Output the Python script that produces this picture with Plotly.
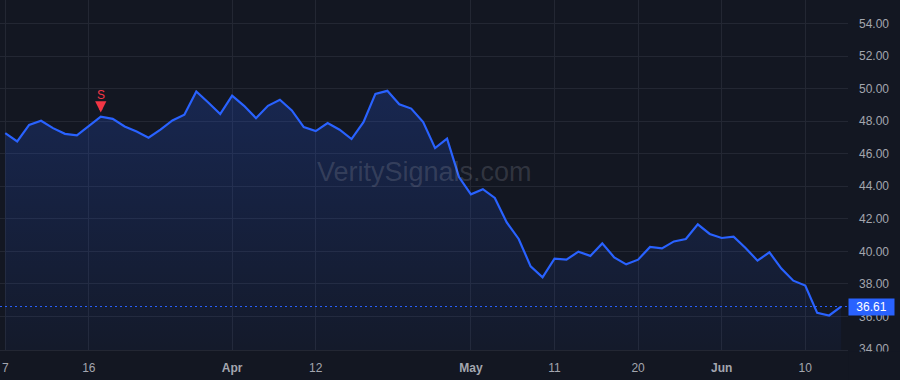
import pandas as pd
import plotly.graph_objects as go

# ---- data ----
holidays = ["2022-04-15", "2022-05-30"]
dates = [d.strftime("%Y-%m-%d") for d in pd.bdate_range("2022-03-07", "2022-06-15") if d.strftime("%Y-%m-%d") not in holidays]

prices = [
    47.26, 46.75, 47.77, 48.02, 47.57, 47.22, 47.12, 47.72, 48.28, 48.14,
    47.67, 47.36, 46.98, 47.48, 48.04, 48.39, 49.82, 49.14, 48.43, 49.57,
    48.94, 48.18, 48.94, 49.31, 48.66, 47.63, 47.39, 47.88, 47.47, 46.90,
    47.94, 49.67, 49.86, 49.04, 48.77, 47.94, 46.34, 46.92, 44.56, 43.50,
    43.82, 43.28, 41.78, 40.76, 39.08, 38.41, 39.55, 39.49, 39.98, 39.72,
    40.49, 39.63, 39.20, 39.49, 40.27, 40.18, 40.61, 40.76, 41.66, 41.07,
    40.82, 40.90, 40.21, 39.43, 39.94, 38.94, 38.20, 37.90, 36.22, 36.06,
    36.61,
]

tick_dates = ["2022-03-07", "2022-03-16", "2022-04-01", "2022-04-12", "2022-05-02",
              "2022-05-11", "2022-05-20", "2022-06-01", "2022-06-10"]
tick_labels = ["7", "16", "<b>Apr</b>", "12", "<b>May</b>", "11", "20", "<b>Jun</b>", "10"]

y_ticks = [34, 36, 38, 40, 42, 44, 46, 48, 50, 52, 54]
signal_date = "2022-03-17"
signal_label = "S"
last_price = prices[-1]

BG = "#131722"
GRID = "#232733"
BLUE = "#2962ff"
TXT = "#a3a6af"
RED = "#f23645"
FONT = "Liberation Sans, Arial, sans-serif"

fig = go.Figure()
fig.add_trace(go.Scatter(
    x=dates, y=prices, mode="lines",
    line=dict(color=BLUE, width=2.2),
    fill="tozeroy",
    fillgradient=dict(type="vertical", start=34, stop=50,
                      colorscale=[[0, "rgba(41,98,255,0.04)"], [1, "rgba(41,98,255,0.21)"]]),
    hoverinfo="skip", showlegend=False,
))

sig_idx = dates.index(signal_date)
# signal arrow (short shaft + head) and its letter
fig.add_annotation(
    x=signal_date, y=prices[sig_idx], text="",
    showarrow=True, ax=0, ay=-14, arrowcolor=RED, arrowwidth=3,
    arrowhead=2, arrowsize=0.75, standoff=4,
)
fig.add_annotation(
    x=signal_date, y=prices[sig_idx], text=signal_label, showarrow=False,
    yshift=22, font=dict(color=RED, size=12, family=FONT),
)

# watermark
fig.add_annotation(
    x=0.5, y=0.508, xref="paper", yref="paper", text="VeritySignals.com",
    showarrow=False, font=dict(size=27, color="rgba(178,181,190,0.2)", family=FONT),
)

# last price line and label
fig.add_shape(type="line", xref="paper", x0=0, x1=1, yref="y", y0=last_price, y1=last_price,
              line=dict(color=BLUE, width=1, dash="2px,3px"), layer="above")
# hide the bottom of the lowest tick label like the original
fig.add_shape(type="rect", xref="paper", yref="paper", x0=1.0005, x1=1.07, y0=-0.004, y1=-0.2,
              fillcolor=BG, line=dict(width=0), layer="above")
fig.add_annotation(
    x=1, xref="paper", xanchor="left", y=last_price, yref="y", text=f"{last_price:.2f}",
    showarrow=False, bgcolor=BLUE, font=dict(color="white", size=12, family=FONT),
    width=43, height=14, borderpad=1, align="center",
)

fig.update_layout(
    width=900, height=380,
    margin=dict(l=0, r=52, t=0, b=30),
    paper_bgcolor=BG, plot_bgcolor=BG,
    font=dict(family=FONT, color=TXT, size=12),
    xaxis=dict(
        type="category", categoryorder="array", categoryarray=dates,
        range=[-0.44, 70.58],
        tickmode="array", tickvals=tick_dates, ticktext=tick_labels,
        showgrid=True, gridcolor=GRID, gridwidth=1,
        showline=True, linecolor=GRID, linewidth=1,
        ticks="", ticklabelstandoff=7, zeroline=False,
        tickfont=dict(size=12, color=TXT),
    ),
    yaxis=dict(
        side="right", range=[33.94, 55.44],
        tickmode="array", tickvals=y_ticks, ticktext=[f"{v:.2f}" for v in y_ticks],
        showgrid=True, gridcolor=GRID, gridwidth=1,
        ticks="", ticklabelstandoff=10, zeroline=False, showline=False,
        tickfont=dict(size=12, color=TXT),
    ),
)

fig.write_html("out.html")
